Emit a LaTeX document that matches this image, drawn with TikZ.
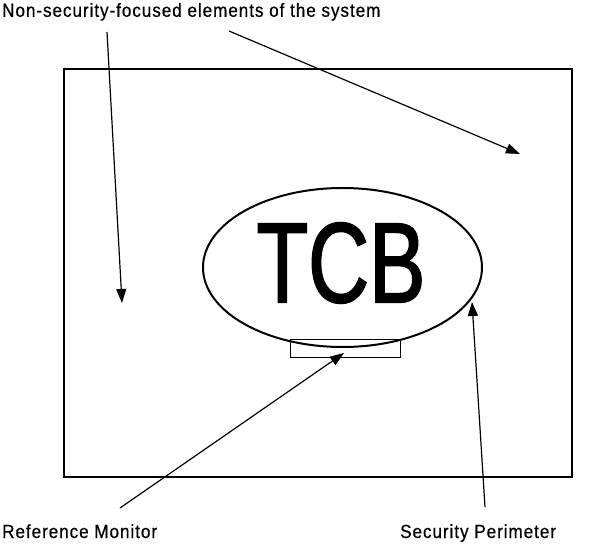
\documentclass[tikz,border=0pt]{standalone}
\usepackage{fontspec}
\setmainfont[FakeStretch=0.9,LetterSpace=5,FakeBold=0.5]{Liberation Sans}
\newfontfamily\tcbfont[FakeStretch=0.74,FakeBold=1.6]{Liberation Sans}
\usetikzlibrary{arrows.meta}
\tikzset{
  frame/.style={draw=black, line width=2pt},
  tcbshape/.style={draw=black, line width=2pt},
  rmbox/.style={draw=black, line width=0.9pt},
  pointer/.style={draw=black, line width=1.2pt, -{Triangle[length=14pt,width=10pt]}},
  lbltext/.style={font=\fontsize{19}{22}\selectfont, inner sep=0pt, anchor=base west},
}
\begin{document}
\begin{tikzpicture}[x=1pt,y=-1pt]
\useasboundingbox (0,0) rectangle (600,545);
\fill[white] (0,0) rectangle (600,545);
\draw[frame] (64,69) rectangle (572,477);
\draw[tcbshape] (342.5,267.5) ellipse [x radius=139.5, y radius=79.5];
\node[inner sep=0pt, font=\tcbfont\fontsize{114}{114}\selectfont] (tcb) at (341,263) {TCB};
\draw[rmbox] (290,339) rectangle (400,357);
\coordinate (rm) at (345,348);
\node[lbltext] (top) at (2,16.8) {Non-security-focused elements of the system};
\node[lbltext] (reflab) at (2,538) {Reference Monitor};
\node[lbltext] (seclab) at (400,538) {Security Perimeter};
\coordinate (s1) at (107,32);
\coordinate (e1) at (122,303);
\coordinate (s2) at (229,31);
\coordinate (e2) at (520,154);
\coordinate (s3) at (120,508);
\coordinate (e3) at (344,353);
\coordinate (s4) at (485,507);
\coordinate (e4) at (472,302);
\draw[pointer] (s1) -- (e1);
\draw[pointer] (s2) -- (e2);
\draw[pointer] (s3) -- (e3);
\draw[pointer] (s4) -- (e4);
\end{tikzpicture}
\end{document}
